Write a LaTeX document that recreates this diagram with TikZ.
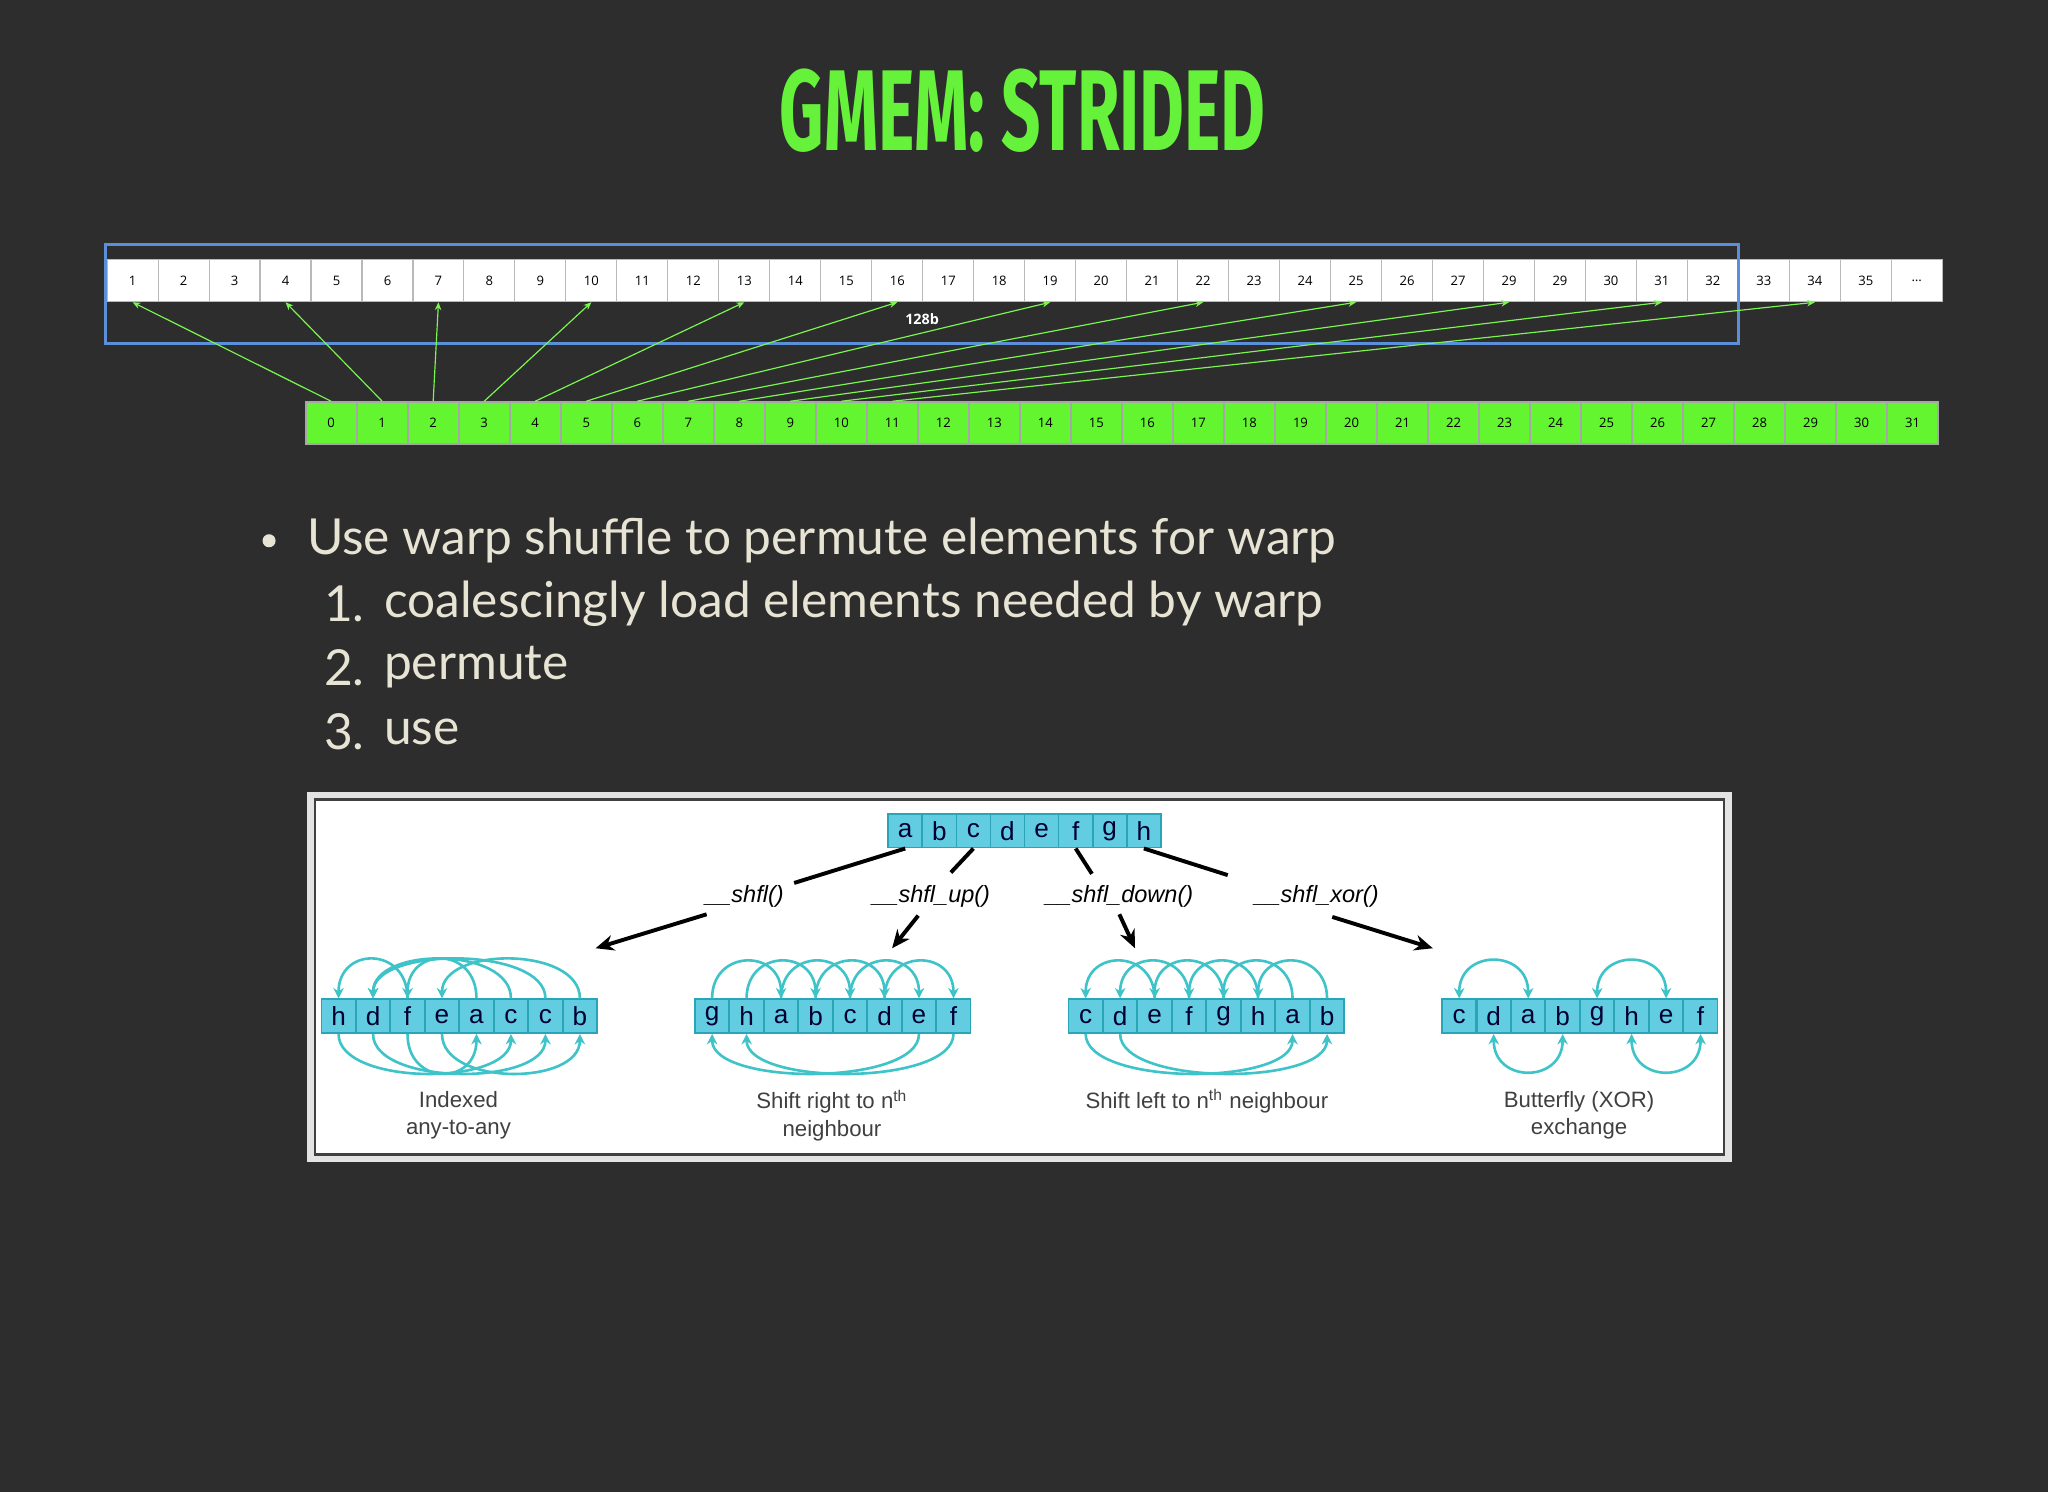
\documentclass[tikz,border=0pt]{standalone}
\usepackage{fontspec}
\setmainfont{Lato}
\newfontfamily\titlefont{Fira Sans}
\newfontfamily\cellfont{Open Sans}
\newfontfamily\capfont{Liberation Sans}
\usetikzlibrary{arrows.meta}
\definecolor{bgc}{HTML}{2D2D2E}
\definecolor{ttl}{HTML}{66F23A}
\definecolor{txt}{HTML}{E8E4D4}
\definecolor{lanegreen}{HTML}{62F530}
\definecolor{blueb}{HTML}{5B8FD9}
\definecolor{cyfill}{HTML}{62CDE0}
\definecolor{cydraw}{HTML}{2AA5B8}
\definecolor{cyarc}{HTML}{3EC3C8}
\tikzset{
  topcell/.style={draw=gray!55,fill=white,minimum width=19.5pt,minimum height=16pt,inner sep=0pt,font=\cellfont\fontsize{5}{5}\selectfont},
  lanecell/.style={draw=gray!70,line width=0.8pt,fill=lanegreen,minimum width=19.5pt,minimum height=16pt,inner sep=0pt,font=\cellfont\fontsize{5}{5}\selectfont},
  garrow/.style={draw=lanegreen!85!white,line width=0.45pt,-{Stealth[length=3pt,width=2.5pt]}},
  cycell/.style={draw=cydraw,line width=0.6pt,fill=cyfill,minimum width=13pt,minimum height=13pt,inner sep=0pt,text=black!80!blue,font=\capfont\fontsize{10}{10}\selectfont},
  carc/.style={draw=cyarc,line width=1pt,-{Stealth[length=4pt,width=4pt]}},
  carcb/.style={draw=cyarc,line width=1pt,{Stealth[length=4pt,width=4pt]}-{Stealth[length=4pt,width=4pt]}},
  barrow/.style={draw=black,line width=1.5pt},
  shfl/.style={font=\capfont\itshape\fontsize{9}{9}\selectfont,text=black},
  capt/.style={font=\capfont\fontsize{8.5}{10.5}\selectfont,text=black!75,align=center},
  item/.style={anchor=west,text=txt,font=\fontsize{19}{19}\selectfont}
}
\begin{document}
\begin{tikzpicture}[x=0.5pt,y=-0.5pt]
\fill[bgc] (0,0) rectangle (1568,1142);
\useasboundingbox (0,0) rectangle (1568,1142);
\node[text=ttl] (title) at (783,85) {\scalebox{0.6}[1]{\titlefont\bfseries\fontsize{44}{44}\selectfont GMEM: STRIDED}};
% top row
\foreach \t [count=\i from 0] in {1,2,3,4,5,6,7,8,9,10,11,12,13,14,15,16,17,18,19,20,21,22,23,24,25,26,27,29,29,30,31,32,33,34,35}
  \node[topcell] (t\i) at ({82+39.03*(\i+0.5)},215) {\t};
\node[topcell] (t35) at ({82+39.03*35.5},215) {\textellipsis};
\draw[blueb,line width=1.2pt] (81,187) rectangle (1331,263);
\node[text=white,font=\cellfont\bfseries\fontsize{5.5}{5.5}\selectfont] (b128) at (706,244) {128b};
\foreach \i in {0,1,...,31}
  \node[lanecell] (b\i) at ({234+39.06*(\i+0.5)},324) {\i};
\foreach \i in {0,1,...,11}{
  \pgfmathtruncatemacro\j{3*\i}
  \draw[garrow] (b\i.north) -- (t\j.south);
}
% bullets
\fill[txt] (206,414) circle (5);
\node[item] (l0) at (228,414) {Use warp shuffle to permute elements for warp};
\node[item] (n1) at (241,462) {1.};
\node[item] (l1) at (287,462) {coalescingly load elements needed by warp};
\node[item] (n2) at (241,511) {2.};
\node[item] (l2) at (287,511) {permute};
\node[item] (n3) at (241,560) {3.};
\node[item] (l3) at (287,560) {use};
% panel
\fill[gray!22] (235,606) rectangle (1326,890);
\fill[white] (241,612) rectangle (1320,884);
\draw[gray!50!black,line width=0.9pt] (241,612) rectangle (1320,884);
\foreach \t [count=\i from 0] in {a,b,c,d,e,f,g,h}
  \node[cycell] (s\i) at ({680+26.1*(\i+0.5)},636) {\t};
\foreach \r/\x/\letters in {1/246/{h,d,f,e,a,c,c,b},2/532/{g,h,a,b,c,d,e,f},3/818/{c,d,e,f,g,h,a,b},4/1104/{c,d,a,b,g,h,e,f}}{
  \foreach \t [count=\i from 0] in \letters
    \node[cycell] (r\r c\i) at ({\x+26.4*(\i+0.5)},778) {\t};
}
% labels
\node[shfl] (L1) at (570,686) {\_\_shfl()};
\node[shfl] (L2) at (713,686) {\_\_shfl\_up()};
\node[shfl] (L3) at (857,686) {\_\_shfl\_down()};
\node[shfl] (L4) at (1008,686) {\_\_shfl\_xor()};
\coordinate (a1) at (456,726); \coordinate (a2) at (683,726);
\coordinate (a3) at (869,726); \coordinate (a4) at (1097,726);
\draw[barrow] (s0.south) -- (608,676);
\draw[barrow,-{Stealth[length=7pt,width=6pt]}] (541,700) -- (a1);
\draw[barrow] (s2.south) -- (728,668);
\draw[barrow,-{Stealth[length=7pt,width=6pt]}] (703,701) -- (a2);
\draw[barrow] (s5.south) -- (836,669);
\draw[barrow,-{Stealth[length=7pt,width=6pt]}] (857,700) -- (a3);
\draw[barrow] (s7.south) -- (940,670);
\draw[barrow,-{Stealth[length=7pt,width=6pt]}] (1020,702) -- (a4);
% arcs: indexed
\foreach \a/\b in {2/0,5/1,4/2,7/3,6/1}
  \draw[carc] (r1c\a.north) .. controls +(0,-40) and +(0,-40) .. (r1c\b.north);
\foreach \a/\b in {0/5,2/4,1/6,3/7}
  \draw[carc] (r1c\a.south) .. controls +(0,40) and +(0,40) .. (r1c\b.south);
% shift right
\foreach \a/\b in {0/2,1/3,2/4,3/5,4/6,5/7}
  \draw[carc] (r2c\a.north) .. controls +(0,-38) and +(0,-38) .. (r2c\b.north);
\foreach \a/\b in {6/0,7/1}
  \draw[carc] (r2c\a.south) .. controls +(0,40) and +(0,40) .. (r2c\b.south);
% shift left
\foreach \a/\b in {2/0,3/1,4/2,5/3,6/4,7/5}
  \draw[carc] (r3c\a.north) .. controls +(0,-38) and +(0,-38) .. (r3c\b.north);
\foreach \a/\b in {0/6,1/7}
  \draw[carc] (r3c\a.south) .. controls +(0,40) and +(0,40) .. (r3c\b.south);
% butterfly
\foreach \a/\b in {0/2,4/6}
  \draw[carcb] (r4c\a.north) .. controls +(0,-38) and +(0,-38) .. (r4c\b.north);
\foreach \a/\b in {1/3,5/7}
  \draw[carcb] (r4c\a.south) .. controls +(0,38) and +(0,38) .. (r4c\b.south);
% captions
\node[capt] (c1) at (351,854) {Indexed\\any-to-any};
\node[capt] (c2) at (637,854) {Shift right to n\textsuperscript{th}\\neighbour};
\node[capt] (c3) at (924,843) {Shift left to n\textsuperscript{th} neighbour};
\node[capt] (c4) at (1209,854) {Butterfly (XOR)\\exchange};
\end{tikzpicture}
\end{document}
